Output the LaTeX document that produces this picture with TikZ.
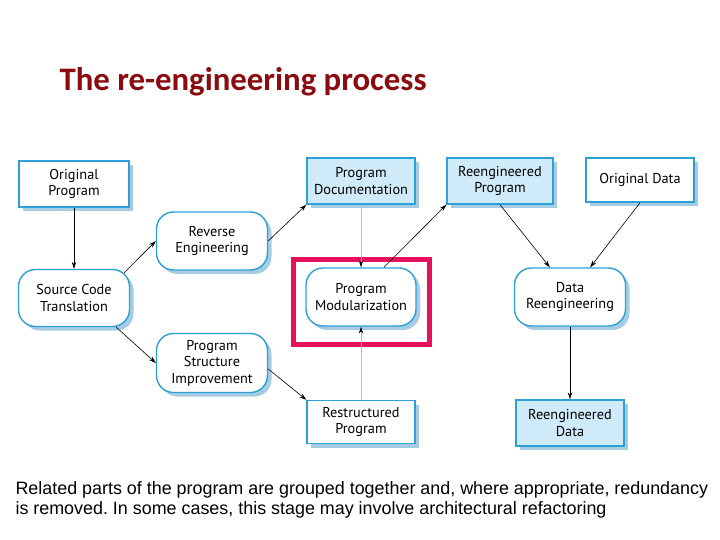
\documentclass[tikz,border=0pt]{standalone}
\usepackage{fontspec}
\setmainfont{Liberation Sans}
\newfontfamily\titlefont{Carlito}
\newfontfamily\boxfont{PT Sans}
\usetikzlibrary{arrows.meta,shadows,calc}
\definecolor{bordblue}{HTML}{2C9FD6}
\definecolor{fillblue}{HTML}{CFEAF8}
\definecolor{shadblue}{HTML}{A6CCE4}
\definecolor{hlred}{HTML}{E6105C}
\definecolor{titlered}{HTML}{8A0C10}
\definecolor{graylink}{HTML}{B8B8B8}
\tikzset{
  base/.style={draw=bordblue, line width=1.4pt, inner sep=0pt, align=center,
    font=\boxfont\fontsize{14.3}{16.5}\selectfont,
    drop shadow={shadow xshift=4pt, shadow yshift=-4pt, fill=shadblue, opacity=1}},
  whitebox/.style={base, rectangle, fill=white},
  bluebox/.style={base, rectangle, fill=fillblue},
  procbox/.style={base, rectangle, rounded corners=17pt, fill=white},
  link/.style={draw=black, line width=0.6pt, -{Stealth[length=7pt,width=4.5pt]}},
  glink/.style={draw=graylink, line width=0.8pt, -{Stealth[length=7pt,width=4.5pt,color=black]}},
}
\begin{document}
\frenchspacing
\begin{tikzpicture}[x=1pt,y=-1pt]
\useasboundingbox (0,0) rectangle (720,540);
\node[anchor=base west, text=titlered, font=\titlefont\bfseries\fontsize{32.8}{38}\selectfont] (title) at (56,91) {The re-engineering process};

\node[whitebox, minimum width=110pt, minimum height=46pt] (op) at (74,184) {Original\\Program};
\node[procbox, minimum width=111pt, minimum height=58pt] (re) at (212,241) {Reverse\\Engineering};
\node[procbox, minimum width=111pt, minimum height=57pt] (sct) at (74,298) {Source Code\\Translation};
\node[procbox, minimum width=111pt, minimum height=59pt] (psi) at (212,363) {Program\\Structure\\Improvement};
\node[bluebox, minimum width=108pt, minimum height=46pt] (pd) at (361,181) {Program\\Documentation};
\node[procbox, minimum width=110pt, minimum height=58pt] (pm) at (361,297) {Program\\Modularization};
\node[whitebox, minimum width=108pt, minimum height=43pt] (rp) at (361,422) {Restructured\\Program};
\node[bluebox, minimum width=106pt, minimum height=46pt] (rgp) at (500,181) {Reengineered\\Program};
\node[whitebox, minimum width=108pt, minimum height=44pt] (od) at (640,180) {Original Data};
\node[procbox, minimum width=111pt, minimum height=58pt] (dr) at (570,297) {Data\\Reengineering};
\node[bluebox, minimum width=108pt, minimum height=46pt] (rd) at (570,423) {Reengineered\\Data};

\node[draw=hlred, line width=5pt, minimum width=136pt, minimum height=85pt, inner sep=0pt] (hl) at (361.5,302) {};

\coordinate (a1) at ($(sct.north east)+(-6,4)$);
\coordinate (a2) at ($(sct.south east)+(-14,0)$);
\coordinate (a3) at ($(psi.east)+(0,6)$);
\coordinate (a4) at ($(pm.north)+(23,0)$);
\coordinate (a5) at ($(dr.north west)+(36,0)$);
\coordinate (a6) at ($(dr.north east)+(-36,0)$);

\draw[link] (op) -- (sct);
\draw[link] (a1) -- (re.west);
\draw[link] (a2) -- (psi.west);
\draw[link] (re.east) -- (pd.south west);
\draw[link] (a3) -- (rp.north west);
\draw[glink] (pd) -- (pm);
\draw[glink] (rp) -- (pm);
\draw[link] (a4) -- (rgp.south west);
\draw[link] (rgp.south) -- (a5);
\draw[link] (od.south) -- (a6);
\draw[link] (dr) -- (rd);

\node[anchor=base west, font=\fontsize{17.9}{20}\selectfont, align=left] (cap) at (12,514)
  {Related parts of the program are grouped together and, where appropriate, redundancy\\is removed. In some cases, this stage may involve architectural refactoring};
\end{tikzpicture}
\end{document}
